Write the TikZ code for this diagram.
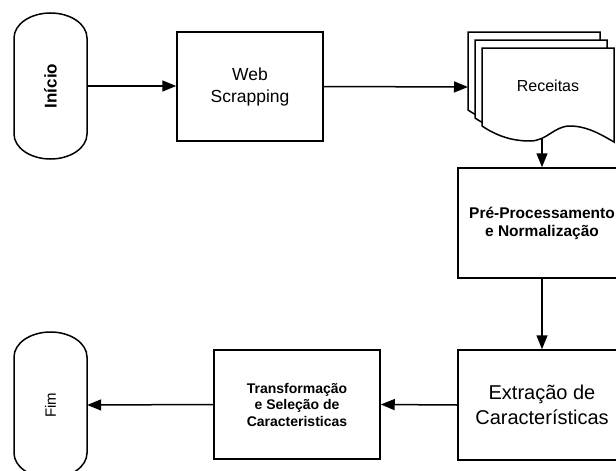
\documentclass[tikz,border=0pt]{standalone}
\usepackage{fontspec}
\usepackage{graphicx}
\setmainfont{Liberation Sans}
\usetikzlibrary{arrows.meta}
\tikzset{
  box/.style={draw, line width=1.5pt, align=center, inner sep=2pt},
  flow/.style={line width=1.5pt, -{Triangle[length=14pt,width=11pt]}},
  outline/.style={draw, line width=1.5pt, fill=white},
  termnode/.style={minimum width=73pt, minimum height=146pt, inner sep=0pt},
}
\newcommand{\docpage}[2]{%
  \begin{scope}[shift={(#1,#2)}]
    \path[outline] (0,0) -- (132,0) -- (132,94)
      .. controls (120,87) and (105,78) .. (88,78)
      .. controls (72,78) and (65,93) .. (48,93)
      .. controls (30,93) and (15,88) .. (0,78) -- cycle;
  \end{scope}}
\newcommand{\stadium}[3]{% cx, top, bottom
  \path[outline] (#1-36.5,#2+25) -- (#1-36.5,#3-25)
    arc[start angle=180, end angle=0, x radius=36.5, y radius=25]
    -- (#1+36.5,#2+25)
    arc[start angle=0, end angle=-180, x radius=36.5, y radius=25] -- cycle;}
\begin{document}
\begin{tikzpicture}[x=1pt,y=-1pt]
  \useasboundingbox (0,0) rectangle (616,471);
  \clip (0,0) rectangle (616,471);
  \fill[white] (0,0) rectangle (616,471);

  % terminals
  \stadium{50.5}{13}{159}
  \node[termnode] (inicio) at (50.5,86)
    {\rotatebox{90}{\bfseries\fontsize{17}{20}\selectfont Início}};
  \stadium{50.5}{332}{478}
  \node[termnode] (fim) at (50.5,405)
    {\rotatebox{90}{\fontsize{15}{18}\selectfont Fim}};

  % process boxes
  \node[box, minimum width=146pt, minimum height=109pt,
        font=\fontsize{17.5}{22}\selectfont] (web) at (250,86.5)
    {Web\\Scrapping};
  \node[box, minimum width=168pt, minimum height=110pt,
        font=\bfseries\fontsize{15.5}{18}\selectfont] (pre) at (542,223)
    {Pré-Processamento\\e Normalização};
  \node[box, minimum width=168pt, minimum height=110pt,
        font=\fontsize{20}{25}\selectfont] (extr) at (542,405)
    {Extração de\\Características};
  \node[box, minimum width=166pt, minimum height=109pt,
        font=\bfseries\fontsize{14}{16.5}\selectfont] (transf) at (297,404.5)
    {Transformação\\e Seleção de\\Caracteristicas};

  % multi-document
  \docpage{468}{32}
  \docpage{475}{40}
  \docpage{482}{48}
  \node[font=\fontsize{16}{19}\selectfont] (receitas) at (548,86) {Receitas};
  \coordinate (docin) at (468,87);
  \coordinate (docout) at (542,139);

  % connectors
  \draw[flow] (inicio.east) -- (inicio.east -| web.west);
  \draw[flow] (web.east) -- (docin);
  \draw[flow] (docout) -- (pre.north);
  \draw[flow] (pre.south) -- (extr.north);
  \draw[flow] (extr.west) -- (transf.east);
  \draw[flow] (transf.west) -- (fim.east);
\end{tikzpicture}
\end{document}
